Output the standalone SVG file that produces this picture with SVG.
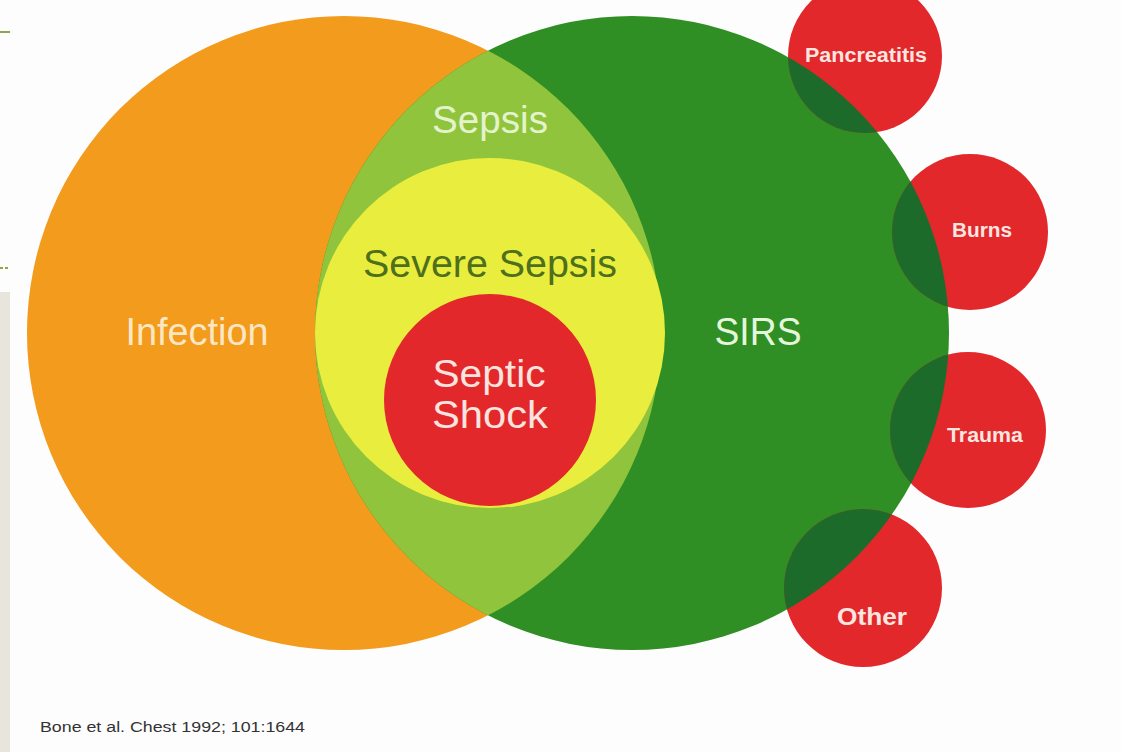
<svg xmlns="http://www.w3.org/2000/svg" width="1121" height="752" viewBox="0 0 1121 752">
<style>
text{font-family:"Liberation Sans",Arial,sans-serif}
.big{font-size:38px;text-anchor:middle}
.sm{font-size:20px;font-weight:bold;text-anchor:middle;fill:#fde6e0}
.red{fill:#e2282b}
.lens{fill:#1d6b2b}
</style>
<defs>
<clipPath id="cpOrange"><circle cx="344" cy="333" r="317"/></clipPath>
<clipPath id="cpGreen"><circle cx="632" cy="333" r="317"/></clipPath>
</defs>
<rect width="1121" height="752" fill="#fdfdfd"/>
<g id="page-marks">
<line x1="0" y1="32" x2="10" y2="32" stroke="#8aa84a" stroke-width="2"/>
<line x1="0" y1="268" x2="9" y2="268" stroke="#8aa84a" stroke-width="2" stroke-dasharray="3,2"/>
<rect x="0" y="292" width="10" height="460" fill="#e8e6dc"/>
</g>
<g id="infection">
<circle cx="344" cy="333" r="317" fill="#f29b1c"/>
</g>
<g id="sirs">
<circle cx="632" cy="333" r="317" fill="#2f8f24"/>
</g>
<g id="sepsis">
<circle cx="632" cy="333" r="317" fill="#8fc43c" clip-path="url(#cpOrange)"/>
</g>
<g id="severe-sepsis">
<circle cx="490" cy="333" r="175" fill="#e9ee3e"/>
</g>
<g id="septic-shock">
<circle cx="490" cy="400" r="106" fill="#e2282b"/>
</g>
<g id="pancreatitis">
<circle class="red" cx="865" cy="56" r="77"/>
<circle class="lens" cx="865" cy="56" r="77" clip-path="url(#cpGreen)"/>
<text class="sm" x="866" y="62" textLength="122" lengthAdjust="spacingAndGlyphs">Pancreatitis</text>
</g>
<g id="burns">
<circle class="red" cx="970" cy="232" r="78"/>
<circle class="lens" cx="970" cy="232" r="78" clip-path="url(#cpGreen)"/>
<text class="sm" x="982" y="237" textLength="60" lengthAdjust="spacingAndGlyphs">Burns</text>
</g>
<g id="trauma">
<circle class="red" cx="968" cy="430" r="78"/>
<circle class="lens" cx="968" cy="430" r="78" clip-path="url(#cpGreen)"/>
<text class="sm" x="985" y="442" textLength="76" lengthAdjust="spacingAndGlyphs">Trauma</text>
</g>
<g id="other">
<circle class="red" cx="863" cy="588" r="79"/>
<circle class="lens" cx="863" cy="588" r="79" clip-path="url(#cpGreen)"/>
<text class="sm" x="872" y="625" style="font-size:24px" textLength="70" lengthAdjust="spacingAndGlyphs">Other</text>
</g>
<g id="labels">
<text class="big" x="197" y="345" fill="#fce7c4" textLength="143" lengthAdjust="spacingAndGlyphs">Infection</text>
<text class="big" x="758" y="345" fill="#e6f6dc" textLength="87" lengthAdjust="spacingAndGlyphs">SIRS</text>
<text class="big" x="490" y="133" fill="#e4f3cc" textLength="116" lengthAdjust="spacingAndGlyphs">Sepsis</text>
<text class="big" x="490" y="277" fill="#4e6f1c" textLength="254" lengthAdjust="spacingAndGlyphs">Severe Sepsis</text>
<text class="big" x="489" y="387" fill="#fbe3df" textLength="113" lengthAdjust="spacingAndGlyphs">Septic</text>
<text class="big" x="490" y="428" fill="#fbe3df" textLength="116" lengthAdjust="spacingAndGlyphs">Shock</text>
</g>
<g id="connectors"/>
<g id="citation">
<text x="40" y="732" font-size="14" fill="#333" textLength="265" lengthAdjust="spacingAndGlyphs">Bone et al. Chest 1992; 101:1644</text>
</g>
</svg>
